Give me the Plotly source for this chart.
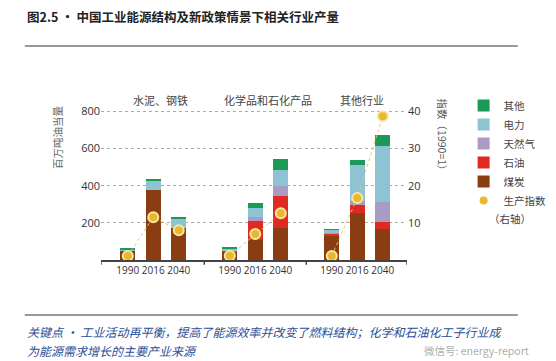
import plotly.graph_objects as go

# ---- data ----
groups = ["水泥、钢铁", "化学品和石化产品", "其他行业"]
years = ["1990", "2016", "2040"]
# x slot positions (blank slot between groups)
slots = [0, 1, 2, 4, 5, 6, 8, 9, 10]

coal = [52, 375, 170, 45, 109, 172, 133, 253, 167]
oil = [0, 0, 0, 5, 99, 170, 10, 45, 35]
gas = [0, 0, 0, 2, 22, 54, 4, 17, 110]
elec = [6, 52, 55, 10, 50, 90, 15, 197, 304]
other = [3, 5, 3, 3, 26, 57, 4, 26, 54]
index_vals = [1.1, 11.5, 8, 1.15, 7, 12.6, 1.1, 16.7, 38.7]

series = [
    ("煤炭", coal, "#8A3C12"),
    ("石油", oil, "#E02A20"),
    ("天然气", gas, "#A89BC4"),
    ("电力", elec, "#8DC3D3"),
    ("其他", other, "#1A9A56"),
]
ranks = {"其他": 1, "电力": 2, "天然气": 3, "石油": 4, "煤炭": 5}

CJK = "Noto Sans CJK SC"
NUM = "Open Sans"
fig = go.Figure()
for name, vals, col in series:
    fig.add_trace(go.Bar(
        x=slots, y=vals, name=name, marker=dict(color=col, line=dict(width=0)),
        width=0.58, legendrank=ranks[name],
    ))

# index line, broken between groups
ix, iy = [], []
for g in range(3):
    for k in range(3):
        ix.append(slots[g * 3 + k]); iy.append(index_vals[g * 3 + k])
    ix.append(None); iy.append(None)
fig.add_trace(go.Scatter(
    x=ix, y=iy, yaxis="y2", mode="lines+markers", showlegend=False,
    line=dict(color="#EBC55A", width=1, dash="dot"),
    marker=dict(size=10, color="#E8B831", line=dict(color="#F8E6A0", width=2)),
))
fig.add_trace(go.Scatter(
    x=[None], y=[None], yaxis="y2", mode="markers", name="生产指数",
    marker=dict(size=8, color="#E8B831"), legendrank=6,
))

fig.update_layout(
    width=556, height=361,
    margin=dict(l=93, r=154, t=94, b=109),
    paper_bgcolor="white", plot_bgcolor="white",
    barmode="stack", bargap=0,
    font=dict(family=CJK, size=11, color="#333333"),
    xaxis=dict(
        range=[-1.05, 10.95], tickmode="array", tickvals=slots,
        ticktext=years * 3, showgrid=False, zeroline=False, tickangle=0,
        showline=True, linecolor="#444444", linewidth=1.5, ticks="",
        tickfont=dict(family=NUM, size=10, color="#333333"),
    ),
    yaxis=dict(
        range=[0, 850], tickvals=[200, 400, 600, 800], showgrid=True,
        gridcolor="#AAAAAA", griddash="dot", gridwidth=1, zeroline=False,
        tickfont=dict(family=NUM, size=11, color="#333333"),
        ticks="", showline=False,
    ),
    yaxis2=dict(
        overlaying="y", side="right", range=[0, 42.5],
        tickvals=[10, 20, 30, 40], showgrid=False, zeroline=False,
        tickfont=dict(family=NUM, size=11, color="#333333"),
        ticks="", showline=False,
    ),
    legend=dict(
        x=1.185, xanchor="left", y=1.07, yanchor="top", traceorder="normal",
        font=dict(family=CJK, size=10.5, color="#444444"),
        itemwidth=30, tracegroupgap=0, bgcolor="rgba(0,0,0,0)",
    ),
    showlegend=True,
)

# group separator ticks on x axis
for xv in [-1.05, 3, 7, 10.95]:
    fig.add_shape(type="line", xref="x", yref="paper", x0=xv, x1=xv, y0=0, y1=-0.03,
                  line=dict(color="#444444", width=1.5))

# group labels
for xc, g in zip([1.3, 5.5, 9.2], groups):
    fig.add_annotation(x=xc, xref="x", y=1.013, yref="paper",
                       text=g, showarrow=False, yanchor="middle",
                       font=dict(family=CJK, size=11, color="#444444"))

# legend note under 生产指数
fig.add_annotation(xref="paper", yref="paper", x=1.262, y=0.265, xanchor="left",
                   yanchor="middle", text="（右轴）", showarrow=False,
                   font=dict(family=CJK, size=10.5, color="#444444"))

# axis titles
fig.add_annotation(xref="paper", yref="paper", x=-0.14, y=0.78, text="百万吨油当量",
                   textangle=-90, showarrow=False, xanchor="center", yanchor="middle",
                   font=dict(family=CJK, size=10.5, color="#666666"))
fig.add_annotation(xref="paper", yref="paper", x=1.115, y=0.78, text="指数（1990=1）",
                   textangle=90, showarrow=False, xanchor="center", yanchor="middle",
                   font=dict(family=CJK, size=10.5, color="#555555"))

# title and rules
fig.add_annotation(xref="paper", yref="paper", x=-0.249, y=1.54,
                   xanchor="left", yanchor="middle", showarrow=False,
                   text="<b>图2.5 · 中国工业能源结构及新政策情景下相关行业产量</b>",
                   font=dict(family=CJK, size=12.5, color="#222222"))
fig.add_shape(type="line", xref="paper", yref="paper", x0=-0.249, x1=1.362,
              y0=1.354, y1=1.354, line=dict(color="#777777", width=1.5))
fig.add_shape(type="line", xref="paper", yref="paper", x0=-0.249, x1=1.362,
              y0=-0.348, y1=-0.348, line=dict(color="#777777", width=1.5))

fig.add_annotation(xref="paper", yref="paper", x=-0.249, y=-0.45,
                   xanchor="left", yanchor="middle", showarrow=False, align="left",
                   text="<i>关键点 · 工业活动再平衡，提高了能源效率并改变了燃料结构；化学和石油化工子行业成</i>",
                   font=dict(family=CJK, size=12, color="#2B4E96"))
fig.add_annotation(xref="paper", yref="paper", x=-0.249, y=-0.57,
                   xanchor="left", yanchor="middle", showarrow=False, align="left",
                   text="<i>为能源需求增长的主要产业来源</i>",
                   font=dict(family=CJK, size=12, color="#2B4E96"))
fig.add_annotation(xref="paper", yref="paper", x=1.05, y=-0.575,
                   xanchor="left", yanchor="middle", showarrow=False,
                   text="微信号: energy-report",
                   font=dict(family=CJK, size=10.5, color="rgba(150,150,150,0.8)"))

fig.write_html("out.html")
